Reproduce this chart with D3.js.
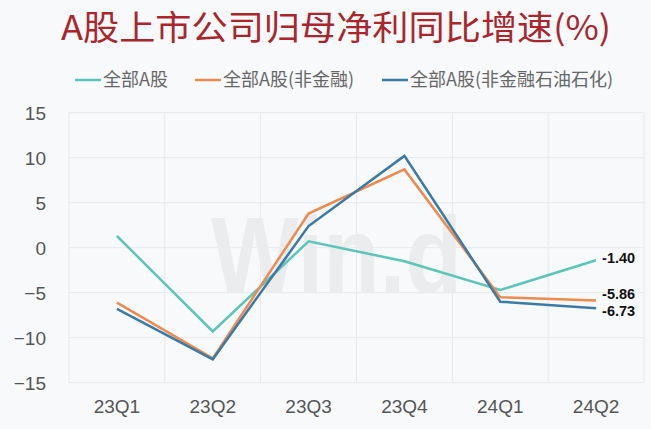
<!DOCTYPE html>
<html><head><meta charset="utf-8">
<script src="https://cdn.jsdelivr.net/npm/d3@7"></script>
<style>
html,body{margin:0;padding:0;background:#f8f9fb;}
svg{display:block;font-family:"Noto Sans CJK SC","Noto Sans",sans-serif;}
</style></head>
<body>
<svg id="chart" width="651" height="429"></svg>
<script>
const categories = ["23Q1","23Q2","23Q3","23Q4","24Q1","24Q2"];
const seriesNames = ["全部A股","全部A股(非金融)","全部A股(非金融石油石化)"];
const allA = [1.3, -9.3, 0.7, -1.5, -4.7, -1.40];
const nonFin = [-6.1, -12.3, 3.8, 8.7, -5.5, -5.86];
const nonFinOil = [-6.8, -12.4, 2.4, 10.2, -6.0, -6.73];
const yTicks = [15, 10, 5, 0, -5, -10, -15];
const title = "A股上市公司归母净利同比增速(%)";
const colors = ["#5cc4b8", "#ec8a4f", "#3a7aa5"];

const series = [allA, nonFin, nonFinOil];
const svg = d3.select("#chart");
const W = 651, H = 429;
const m = {left: 69, right: 7, top: 112.7, bottom: 46.3};

svg.append("rect").attr("width", W).attr("height", H).attr("fill", "#f8f9fb");

const x = d3.scaleBand().domain(categories).range([m.left, W - m.right]).padding(0);
const y = d3.scaleLinear().domain([-15, 15]).range([H - m.bottom, m.top]);

// title
svg.append("text").attr("x", 336).attr("y", 40).attr("text-anchor", "middle")
  .attr("font-size", 34).attr("fill", "#a9262c")
  .attr("textLength", 550).attr("lengthAdjust", "spacingAndGlyphs").text(title);

// legend
const legendX = [75, 195, 382];
seriesNames.forEach((n, i) => {
  const g = svg.append("g").attr("transform", `translate(${legendX[i]},80)`);
  g.append("line").attr("x1", 0).attr("x2", 26).attr("y1", 0).attr("y2", 0)
    .attr("stroke", colors[i]).attr("stroke-width", 2.5);
  g.append("text").attr("x", 28).attr("y", 6).attr("font-size", 18).attr("fill", "#666")
    .text(n);
});

// grid
const grid = svg.append("g");
yTicks.forEach(t => {
  grid.append("line").attr("x1", m.left).attr("x2", W - m.right)
    .attr("y1", y(t)).attr("y2", y(t)).attr("stroke", "#e6e8eb").attr("stroke-width", 1);
});
const bounds = categories.map(c => x(c)).concat([x(categories[categories.length-1]) + x.bandwidth()]);
bounds.forEach(b => {
  grid.append("line").attr("x1", b).attr("x2", b).attr("y1", m.top).attr("y2", H - m.bottom)
    .attr("stroke", "#e6e8eb").attr("stroke-width", 1);
});

// watermark
svg.append("text").attr("x", 211).attr("y", 292).attr("font-family", "Liberation Sans, Arial, sans-serif")
  .attr("font-weight", "bold").attr("font-size", 107).attr("fill", "#ebecee")
  .attr("textLength", 251).attr("lengthAdjust", "spacingAndGlyphs").text("Win.d");

// axes
const yAxis = d3.axisLeft(y).tickValues(yTicks).tickSize(0).tickPadding(0);
const gy = svg.append("g").attr("transform", `translate(46,0)`).call(yAxis);
gy.select(".domain").remove();
gy.selectAll("text").attr("font-size", 19).attr("fill", "#555")
  .attr("font-family", "Liberation Sans, Arial, sans-serif").attr("dy", "0.35em");

const xAxis = d3.axisBottom(x).tickSize(0).tickPadding(0);
const gx = svg.append("g").attr("transform", `translate(0,${H - m.bottom + 17})`).call(xAxis);
gx.select(".domain").remove();
gx.selectAll("text").attr("font-size", 19).attr("fill", "#555")
  .attr("font-family", "Liberation Sans, Arial, sans-serif").attr("dy", "0.71em");

// lines
const line = d3.line().x((d, i) => x(categories[i]) + x.bandwidth() / 2).y(d => y(d));
series.forEach((s, i) => {
  svg.append("path").datum(s).attr("d", line).attr("fill", "none")
    .attr("stroke", colors[i]).attr("stroke-width", 2.5).attr("stroke-linejoin", "miter");
});

// end labels with collision avoidance
const last = categories.length - 1;
const labels = series.map((s, i) => ({v: s[last], y: y(s[last])}));
const sorted = labels.slice().sort((a, b) => a.y - b.y);
const minGap = 16.5;
for (let k = 0; k < 20; k++) {
  for (let j = 1; j < sorted.length; j++) {
    const gap = sorted[j].y - sorted[j-1].y;
    if (gap < minGap) {
      const d = (minGap - gap) / 2;
      sorted[j].y += d; sorted[j-1].y -= d;
    }
  }
}
labels.forEach(l => {
  svg.append("text").attr("x", x(categories[last]) + x.bandwidth() / 2 + 6).attr("y", l.y - 2)
    .attr("dy", "0.35em").attr("font-size", 14.5).attr("font-weight", "bold")
    .attr("font-family", "Liberation Sans, Arial, sans-serif").attr("fill", "#111")
    .text(l.v.toFixed(2));
});
</script>
</body></html>
